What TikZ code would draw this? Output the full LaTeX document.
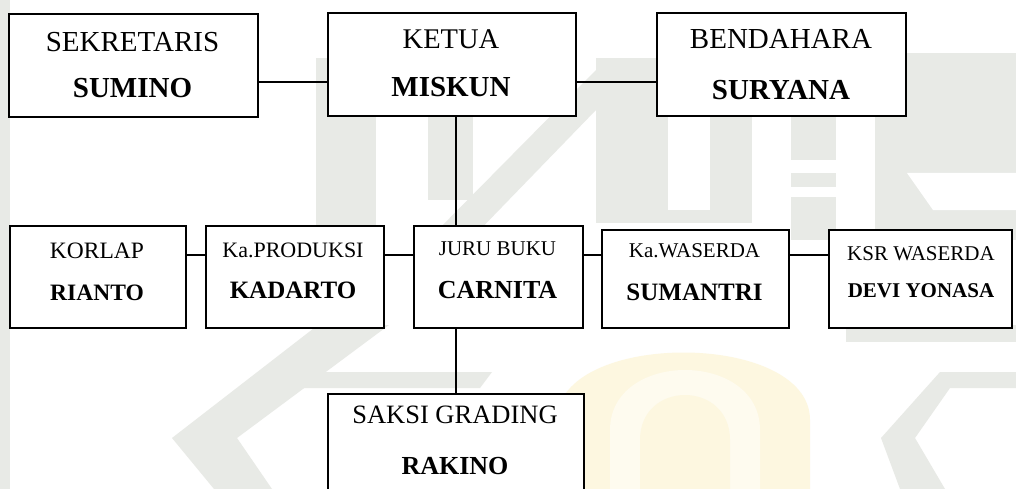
\documentclass[tikz,border=0pt]{standalone}
\usepackage{fontspec}
\setmainfont{Liberation Serif}
\definecolor{wmgrey}{HTML}{E8EAE6}
\definecolor{wmyellow}{HTML}{FDF7E0}
\definecolor{wmyellowlight}{HTML}{FEFBEF}
\begin{document}
\begin{tikzpicture}[x=1pt,y=-1pt,
  box/.style={draw=black,line width=1.6pt,fill=white,inner sep=0pt,anchor=north west},
  conn/.style={draw=black,line width=1.4pt},
  lbl/.style={anchor=base,inner sep=0pt,text=black},
  wm/.style={fill=wmgrey,draw=none}]
\useasboundingbox (0,0) rectangle (1016,489);
\fill[white] (0,0) rectangle (1016,489);
% ---- faint watermark ----
\fill[wm] (0,0) rectangle (10,489);
\fill[wm] (316,58) rectangle (376,240);
\fill[wm] (428,58) rectangle (473,200);
\fill[wm] (428,240) -- (470,240) -- (596,110) -- (596,70) -- cycle;
\fill[wm] (596,58) rectangle (668,223);
\fill[wm] (710,58) rectangle (752,223);
\fill[wm] (596,210) rectangle (752,223);
\fill[wm] (791,58) rectangle (836,160);
\fill[wm] (791,173) rectangle (836,187);
\fill[wm] (791,197) rectangle (836,240);
\fill[wm] (875,53) rectangle (1016,240);
\fill[white] (907,173) -- (1016,173) -- (1016,210) -- (933,210) -- cycle;
\fill[wm] (318,325) -- (389,325) -- (237,438) -- (272,489) -- (214,489) -- (172,438) -- cycle;
\fill[wm] (318,372) -- (492,372) -- (480,388) -- (300,388) -- cycle;
\fill[wm] (846,325) rectangle (1016,342);
\fill[wm] (940,372) -- (1016,372) -- (1016,388) -- (950,388) -- (915,438) -- (945,489) -- (900,489) -- (881,438) -- cycle;
\fill[wmyellow] (557,489) -- (557,420) .. controls (557,330) and (810,330) .. (810,420) -- (810,489) -- cycle;
\fill[wmyellowlight] (610,489) -- (610,430) .. controls (610,350) and (760,350) .. (760,430) -- (760,489) -- cycle;
\fill[wmyellow] (640,489) -- (640,440) .. controls (640,380) and (730,380) .. (730,440) -- (730,489) -- cycle;
% ---- boxes ----
\node[box,minimum width=249pt,minimum height=103pt] (sek) at (8,13) {};
\node[box,minimum width=248pt,minimum height=103pt] (ketua) at (327,12) {};
\node[box,minimum width=249pt,minimum height=103pt] (bend) at (656,12) {};
\node[box,minimum width=176pt,minimum height=102pt] (korlap) at (9,225) {};
\node[box,minimum width=178pt,minimum height=102pt] (prod) at (205,225) {};
\node[box,minimum width=169pt,minimum height=102pt] (juru) at (413,225) {};
\node[box,minimum width=187pt,minimum height=98pt] (waserda) at (601,229) {};
\node[box,minimum width=183pt,minimum height=98pt] (ksr) at (828,229) {};
\node[box,minimum width=256pt,minimum height=110pt] (saksi) at (327,393) {};
% ---- connectors ----
\coordinate (topy) at (0,82);
\coordinate (midy) at (0,255);
\coordinate (vx) at (456,0);
\draw[conn] (sek.east |- topy) -- (ketua.west |- topy);
\draw[conn] (ketua.east |- topy) -- (bend.west |- topy);
\draw[conn] (ketua.south -| vx) -- (juru.north -| vx);
\draw[conn] (juru.south -| vx) -- (saksi.north -| vx);
\draw[conn] (korlap.east |- midy) -- (prod.west |- midy);
\draw[conn] (prod.east |- midy) -- (juru.west |- midy);
\draw[conn] (juru.east |- midy) -- (waserda.west |- midy);
\draw[conn] (waserda.east |- midy) -- (ksr.west |- midy);
% ---- labels ----
\node[lbl,font=\fontsize{29}{30}\selectfont] (sekA) at (132.5,52) {SEKRETARIS};
\node[lbl,font=\fontsize{29}{30}\selectfont\bfseries] (sekB) at (132.5,98) {SUMINO};
\node[lbl,font=\fontsize{28.5}{30}\selectfont] (ketA) at (451,49) {KETUA};
\node[lbl,font=\fontsize{29}{30}\selectfont\bfseries] (ketB) at (451,97) {MISKUN};
\node[lbl,font=\fontsize{29}{30}\selectfont] (benA) at (781,49) {BENDAHARA};
\node[lbl,font=\fontsize{29}{30}\selectfont\bfseries] (benB) at (781,100) {SURYANA};
\node[lbl,font=\fontsize{23.5}{25}\selectfont] (korA) at (97,258) {KORLAP};
\node[lbl,font=\fontsize{23.5}{25}\selectfont\bfseries] (korB) at (97,300) {RIANTO};
\node[lbl,font=\fontsize{22}{24}\selectfont] (proA) at (293,257) {Ka.PRODUKSI};
\node[lbl,font=\fontsize{25}{27}\selectfont\bfseries] (proB) at (293,298) {KADARTO};
\node[lbl,font=\fontsize{21}{23}\selectfont] (jurA) at (497.5,255) {JURU BUKU};
\node[lbl,font=\fontsize{26}{28}\selectfont\bfseries] (jurB) at (497.5,298) {CARNITA};
\node[lbl,font=\fontsize{21}{23}\selectfont] (wasA) at (694.5,257) {Ka.WASERDA};
\node[lbl,font=\fontsize{25}{27}\selectfont\bfseries] (wasB) at (694.5,300) {SUMANTRI};
\node[lbl,font=\fontsize{21}{23}\selectfont] (ksrA) at (921,260) {KSR WASERDA};
\node[lbl,font=\fontsize{21}{23}\selectfont\bfseries] (ksrB) at (921,297) {DEVI YONASA};
\node[lbl,font=\fontsize{26.5}{28}\selectfont] (sakA) at (455,423) {SAKSI GRADING};
\node[lbl,font=\fontsize{26}{28}\selectfont\bfseries] (sakB) at (455,474) {RAKINO};
\end{tikzpicture}
\end{document}
